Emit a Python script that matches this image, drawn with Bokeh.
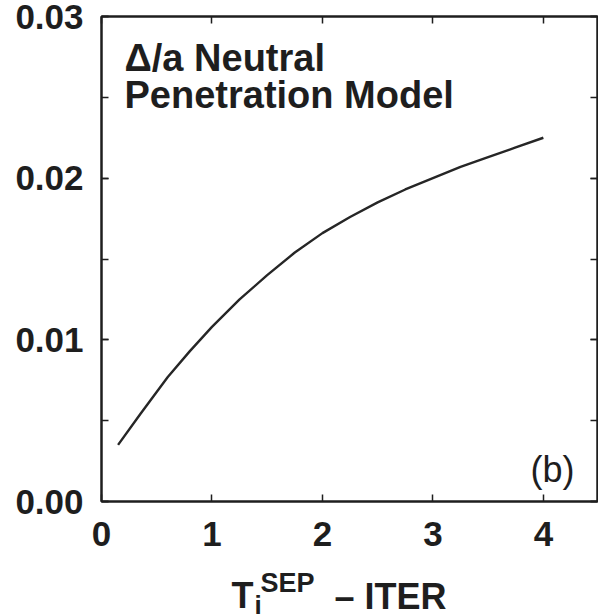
from bokeh.plotting import figure
from bokeh.layouts import column
from bokeh.models import (Range1d, LinearAxis, FixedTicker, SingleIntervalTicker,
                          PrintfTickFormatter, CustomJSTickFormatter, Label)
from bokeh.embed import file_html
from bokeh.resources import INLINE

# Pedestal width Δ/a versus separatrix ion temperature (neutral penetration model)
ti_sep = [0.15, 0.35, 0.6, 0.8, 1.0, 1.25, 1.5, 1.75, 2.0, 2.25, 2.5, 2.75,
          3.0, 3.25, 3.5, 3.75, 4.0]
delta_a = [0.0035, 0.0054, 0.0077, 0.0093, 0.0108, 0.0125, 0.0140, 0.0154,
           0.0166, 0.0176, 0.0185, 0.0193, 0.0200, 0.0207, 0.0213, 0.0219,
           0.0225]
x_ticks = [0, 1, 2, 3, 4]
x_lim = (0, 4.49)
y_lim = (0, 0.03)

FONT = "Liberation Sans"
INK = "#1e1e1e"

W = 598
MAIN_H, TITLE_H = 566, 50
LEFT, RIGHT, TOP, BOTTOM = 101, 1, 16, 65

p = figure(width=W, height=MAIN_H, x_range=Range1d(*x_lim), y_range=Range1d(*y_lim),
           output_backend="svg", toolbar_location=None,
           min_border_left=LEFT, min_border_right=RIGHT,
           min_border_top=TOP, min_border_bottom=BOTTOM)
p.grid.visible = False
p.outline_line_color = INK
p.outline_line_width = 2
p.background_fill_color = "white"
p.border_fill_color = "white"

p.line(ti_sep, delta_a, line_color="#262626", line_width=2.4)


def style_axis(ax, labelled):
    ax.axis_line_color = INK
    ax.axis_line_width = 2
    ax.major_tick_line_color = INK
    ax.minor_tick_line_color = INK
    ax.major_tick_line_width = 1.5
    ax.minor_tick_line_width = 1.5
    ax.major_tick_in = 7
    ax.major_tick_out = 0
    ax.minor_tick_in = 7
    ax.minor_tick_out = 0
    if labelled:
        ax.major_label_text_font = FONT
        ax.major_label_text_font_style = "bold"
        ax.major_label_text_font_size = "35px"
        ax.major_label_text_color = INK
    else:
        ax.formatter = CustomJSTickFormatter(code="return ''")
        ax.major_label_standoff = 0
        ax.major_label_text_font_size = "1px"


# bottom and left axes carry the numbers
xa = p.xaxis[0]
xa.ticker = FixedTicker(ticks=x_ticks)
style_axis(xa, True)
xa.major_label_standoff = 20

ya = p.yaxis[0]
ya.ticker = SingleIntervalTicker(interval=0.01, num_minor_ticks=2)
ya.formatter = PrintfTickFormatter(format="%.2f")
style_axis(ya, True)
ya.major_label_standoff = 18

# mirrored tick marks on the top and right edges
top_ax = LinearAxis(ticker=FixedTicker(ticks=x_ticks))
style_axis(top_ax, False)
p.add_layout(top_ax, "above")

right_ax = LinearAxis(ticker=SingleIntervalTicker(interval=0.01, num_minor_ticks=2))
style_axis(right_ax, False)
p.add_layout(right_ax, "right")

# pixel -> data helpers for placing the in-plot annotations
frame_w = W - LEFT - RIGHT
frame_h = MAIN_H - TOP - BOTTOM


def dx(px):
    return x_lim[0] + (px - LEFT) * (x_lim[1] - x_lim[0]) / frame_w


def dy(py):
    return y_lim[0] + (TOP + frame_h - py) * (y_lim[1] - y_lim[0]) / frame_h


def text_label(text, x, y, size, bold=True):
    return Label(x=x, y=y, text=text, text_font=FONT, text_font_size=size,
                 text_font_style="bold" if bold else "normal",
                 text_color=INK, text_baseline="middle", text_align="left")


p.add_layout(text_label("Δ/a Neutral", dx(124), dy(57), "38px"))
p.add_layout(text_label("Penetration Model", dx(124), dy(94), "38px"))
p.add_layout(text_label("(b)", dx(530), dy(469), "36px", bold=False))

# x-axis title strip: T_i^SEP – ITER. The column aligns this strip's frame with
# the chart frame above, so its x range spans the same pixel columns.
t = figure(width=W, height=TITLE_H, x_range=Range1d(LEFT, W - RIGHT),
           y_range=Range1d(TITLE_H, 0),
           output_backend="svg", toolbar_location=None,
           x_axis_location=None, y_axis_location=None,
           min_border_left=LEFT, min_border_right=RIGHT,
           min_border_top=0, min_border_bottom=0)
t.grid.visible = False
t.outline_line_color = None
t.background_fill_color = "white"
t.border_fill_color = "white"

off = MAIN_H
t.add_layout(text_label("T", 231, 595 - off, "36px"))
t.add_layout(text_label("i", 254, 604 - off, "26px"))
t.add_layout(text_label("SEP", 260, 582 - off, "27px"))
t.add_layout(text_label("– ITER", 334, 596 - off, "36px"))

layout = column(p, t, spacing=0)
open("out.html", "w").write(file_html(layout, INLINE))
